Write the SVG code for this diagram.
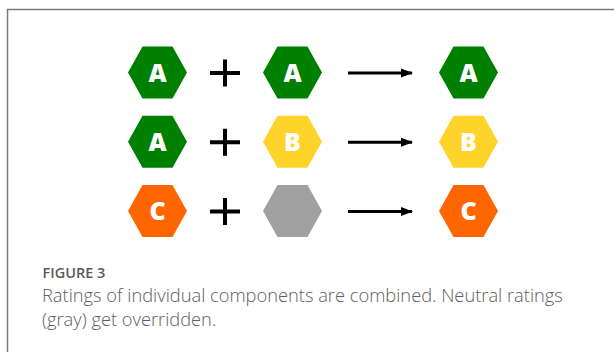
<svg xmlns="http://www.w3.org/2000/svg" width="614" height="352" viewBox="0 0 614 352">
  <style>
    .g{fill:#008000}.y{fill:#ffd42a}.o{fill:#ff6600}.n{fill:#a0a0a0}
    .lbl{font-family:"Open Sans","Noto Sans",sans-serif;font-weight:800;font-size:25px;fill:#ffffff;text-anchor:middle}
    .plus{stroke:#000;stroke-width:4;fill:none}
    .arr{stroke:#000;stroke-width:3;fill:none}
    .cap1{font-family:"Open Sans","Noto Sans",sans-serif;font-weight:600;font-size:14.5px;fill:#5a5a5a}
    .cap2{font-family:"Open Sans","Noto Sans",sans-serif;font-weight:300;font-size:18.3px;fill:#5e5e5e}
  </style>
  <defs>
    <polygon id="hex" points="-29.5,0 -15,-26 15,-26 29.5,0 15,26 -15,26"/>
    <marker id="ah" markerWidth="12" markerHeight="10" refX="11" refY="5" orient="auto" markerUnits="userSpaceOnUse">
      <path d="M0,0.5 L12,5 L0,9.5 Z" fill="#000"/>
    </marker>
  </defs>
  <rect x="0" y="0" width="614" height="352" fill="#ffffff"/>
  <path d="M7.5,360 V9.5 H620" fill="none" stroke="#7a7a7a" stroke-width="1.5"/>

  <g id="r1a"><use href="#hex" x="157.5" y="72.5" class="g"/><text class="lbl" x="157.5" y="81.5">A</text></g>
  <g id="r1b"><use href="#hex" x="292.5" y="72.5" class="g"/><text class="lbl" x="292.5" y="81.5">A</text></g>
  <g id="r1c"><use href="#hex" x="468.5" y="72.5" class="g"/><text class="lbl" x="468.5" y="81.5">A</text></g>

  <g id="r2a"><use href="#hex" x="157.5" y="141.8" class="g"/><text class="lbl" x="157.5" y="150.8">A</text></g>
  <g id="r2b"><use href="#hex" x="292.5" y="141.8" class="y"/><text class="lbl" x="292.5" y="150.8">B</text></g>
  <g id="r2c"><use href="#hex" x="468.5" y="141.8" class="y"/><text class="lbl" x="468.5" y="150.8">B</text></g>

  <g id="r3a"><use href="#hex" x="157.5" y="211" class="o"/><text class="lbl" x="157.5" y="220">C</text></g>
  <g id="r3b"><use href="#hex" x="292.5" y="211" class="n"/></g>
  <g id="r3c"><use href="#hex" x="468.5" y="211" class="o"/><text class="lbl" x="468.5" y="220">C</text></g>

  <g id="plus">
    <path class="plus" d="M210,73 H240 M225,59.5 V86.5"/>
    <path class="plus" d="M210,142.3 H240 M225,128.8 V155.8"/>
    <path class="plus" d="M210,211.5 H240 M225,198 V225"/>
  </g>
  <g id="connectors">
    <path class="arr" d="M348,73 H412" marker-end="url(#ah)"/>
    <path class="arr" d="M348,142.3 H412" marker-end="url(#ah)"/>
    <path class="arr" d="M348,211.5 H412" marker-end="url(#ah)"/>
  </g>

  <text class="cap1" x="42.5" y="277.7">FIGURE 3</text>
  <text class="cap2" x="42" y="302">Ratings of individual components are combined. Neutral ratings</text>
  <text class="cap2" x="42" y="325.5">(gray) get overridden.</text>
</svg>
